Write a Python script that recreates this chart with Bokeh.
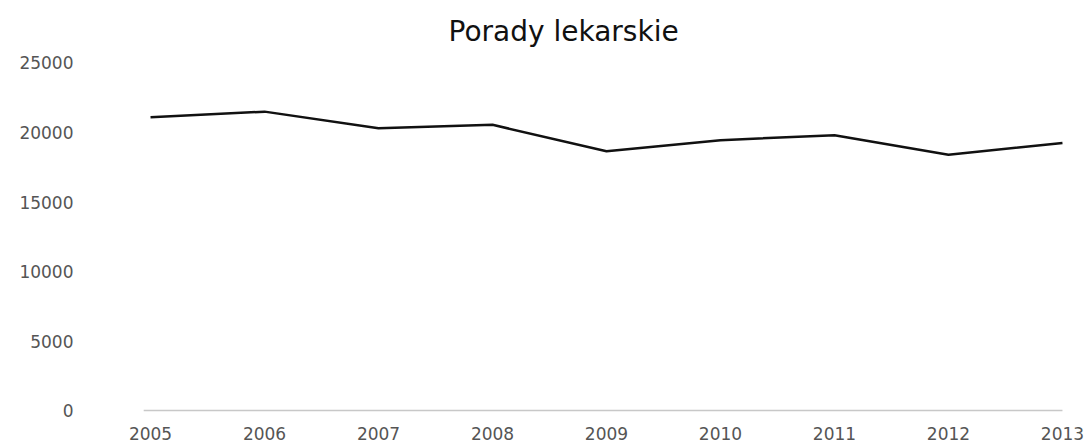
from bokeh.plotting import figure
from bokeh.models import Range1d, FixedTicker
from bokeh.embed import file_html
from bokeh.resources import INLINE

years = [2005, 2006, 2007, 2008, 2009, 2010, 2011, 2012, 2013]
porady = [21100, 21500, 20300, 20550, 18650, 19450, 19800, 18400, 19250]
y_ticks = [0, 5000, 10000, 15000, 20000, 25000]
title_text = "Porady lekarskie"

p = figure(width=1085, height=442, output_backend="svg", toolbar_location=None,
           x_range=Range1d(2004.912, 2013.088), y_range=Range1d(-213, 25250),
           min_border_left=140, min_border_right=13, min_border_top=55,
           min_border_bottom=24, title=title_text)
p.title.align = "left"
p.title.offset = 308
p.title.text_font = "DejaVu Sans"
p.title.text_font_size = "28px"
p.title.text_font_style = "normal"
p.title.text_color = "#111111"
p.title.standoff = 24
p.outline_line_color = None
p.background_fill_color = "white"
p.border_fill_color = "white"
p.xgrid.visible = False
p.ygrid.visible = False

for ax in (p.xaxis[0], p.yaxis[0]):
    ax.axis_line_color = None
    ax.major_tick_line_color = None
    ax.minor_tick_line_color = None
    ax.major_label_text_font = "DejaVu Sans"
    ax.major_label_text_font_size = "17px"
    ax.major_label_text_color = "#555555"

p.xaxis.ticker = FixedTicker(ticks=years)
p.xaxis.major_label_standoff = 7
p.yaxis.ticker = FixedTicker(ticks=y_ticks)
p.yaxis.major_label_standoff = 61

p.segment(x0=[years[0] - 0.06], y0=[0], x1=[years[-1]], y1=[0],
          line_color="#c8c8c8", line_width=1.5)
p.line(years, porady, line_color="#111111", line_width=2.5)

open("out.html", "w").write(file_html(p, INLINE))
